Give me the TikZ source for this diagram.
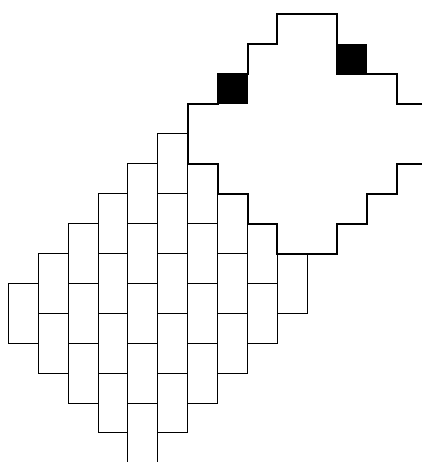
\documentclass[tikz,border=0pt]{standalone}
\usepackage{tikz}
\tikzset{
    % Line styles
    brick/.style={draw=black, line width=0.7pt},
    outline/.style={draw=black, line width=1.5pt, line join=miter},
    blackcell/.style={fill=black, draw=none}
}
\begin{document}
\begin{tikzpicture}[x=22.425pt, y=-22.425pt]
    \useasboundingbox (-0.2776,-0.478) rectangle (13.836,14.973);

    % Bricks: column / first row / last row
    \foreach \col/\first/\last in {0/9/9, 1/8/10, 2/7/11, 3/6/12, 4/5/11, 5/4/12, 6/5/11, 7/6/10, 8/7/9, 9/8/8}{
        \foreach \row in {\first,...,\last}{
            \pgfmathparse{int(mod(\row-\first,2))}
            \ifnum\pgfmathresult=0
                \draw[brick] (\col,\row) rectangle ++(1,2);
            \fi
        }
    }
    % Open bottom of the middle column
    \draw[brick] (4,13) -- (4,14.973);
    \draw[brick] (5,13) -- (5,14.973);

    % Black cells
    \fill[blackcell] (7,2) rectangle (8,3);
    \fill[blackcell] (11,1) rectangle (12,2);

    % Upper and lower stepped outlines
    \draw[outline] (13.836,3) -- (13,3) -- (13,2) -- (12,2) -- (11,2) -- (11,0) -- (9,0) -- (9,1) -- (8,1) -- (8,2)
        -- (7,2) -- (7,3) -- (6,3) -- (6,5) -- (7,5) -- (7,6) -- (8,6) -- (8,7) -- (9,7) -- (9,8) -- (11,8)
        -- (11,7) -- (12,7) -- (12,6) -- (13,6) -- (13,5) -- (13.836,5);
\end{tikzpicture}
\end{document}
